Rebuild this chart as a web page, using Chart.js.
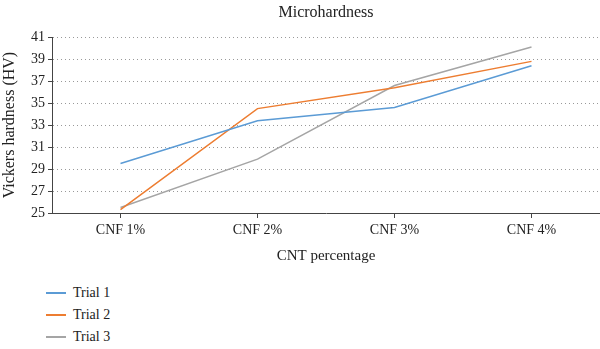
<!DOCTYPE html>
<html><head><meta charset="utf-8">
<script src="https://cdn.jsdelivr.net/npm/chart.js@4"></script>
<style>
html,body{margin:0;padding:0;background:#fff;}
#wrap{position:relative;width:600px;height:349px;overflow:hidden;}
#c{position:absolute;left:0;top:0;}
#legend{position:absolute;left:46px;top:282px;font-family:"Liberation Serif",serif;font-size:14px;color:#222;}
.item{display:flex;align-items:center;height:22px;}
.swatch{display:inline-block;width:20px;height:1.5px;margin-right:7px;}
</style></head><body>
<div id="wrap"><canvas id="c" width="600" height="265" style="width:600px;height:265px"></canvas><div id="legend"></div></div>
<script>
const categories = ["CNF 1%", "CNF 2%", "CNF 3%", "CNF 4%"];
const seriesNames = ["Trial 1", "Trial 2", "Trial 3"];
const trial1 = [29.5, 33.4, 34.6, 38.4];
const trial2 = [25.3, 34.5, 36.4, 38.8];
const trial3 = [25.5, 29.9, 36.6, 40.1];
const yTicks = [25, 27, 29, 31, 33, 35, 37, 39, 41];
const colors = ["#5B9BD5", "#ED7D31", "#A5A5A5"];

const FONT = "'Liberation Serif', serif";
const chart = new Chart(document.getElementById('c'), {
  type: 'line',
  data: {
    labels: categories,
    datasets: [trial1, trial2, trial3].map((d, i) => ({
      label: seriesNames[i], data: d, borderColor: colors[i], backgroundColor: colors[i],
      borderWidth: 1.5, pointRadius: 0, tension: 0, fill: false
    }))
  },
  options: {
    responsive: false, animation: false,
    layout: { padding: { left: 0, right: 0, top: 0, bottom: 0 } },
    plugins: {
      legend: { display: false },
      tooltip: { enabled: false },
      title: { display: true, text: 'Microhardness', fullSize: false, color: '#222',
        font: { family: FONT, size: 16, weight: 'normal' }, padding: { top: 3, bottom: 15 } }
    },
    scales: {
      x: {
        offset: true,
        grid: { display: true, drawOnChartArea: false, drawTicks: true, tickLength: 5, tickColor: '#444', offset: false },
        border: { display: true, color: '#444', width: 1 },
        ticks: { color: '#222', font: { family: FONT, size: 14 }, padding: 4, maxRotation: 0 },
        title: { display: true, text: 'CNT percentage', color: '#222', font: { family: FONT, size: 15 }, padding: { top: 2, bottom: 0 } },
        afterFit: s => { s.height = 52; }
      },
      y: {
        min: 25, max: 41,
        afterBuildTicks: s => { s.ticks = yTicks.map(v => ({ value: v })); },
        grid: { color: '#999', lineWidth: 1, tickLength: 4, tickColor: '#444', drawTicks: true },
        border: { display: true, color: '#444', width: 1, dash: [1, 3] },
        ticks: { color: '#222', font: { family: FONT, size: 14 }, padding: 3 },
        title: { display: true, text: 'Vickers hardness (HV)', color: '#222', font: { family: FONT, size: 16 }, padding: { top: 0, bottom: 2 } },
        afterFit: s => { s.width = 52; }
      }
    }
  }
});

const leg = document.getElementById('legend');
chart.data.datasets.forEach(ds => {
  const it = document.createElement('div'); it.className = 'item';
  const sw = document.createElement('span'); sw.className = 'swatch'; sw.style.background = ds.borderColor;
  const tx = document.createElement('span'); tx.textContent = ds.label;
  it.appendChild(sw); it.appendChild(tx); leg.appendChild(it);
});
</script>
</body></html>
